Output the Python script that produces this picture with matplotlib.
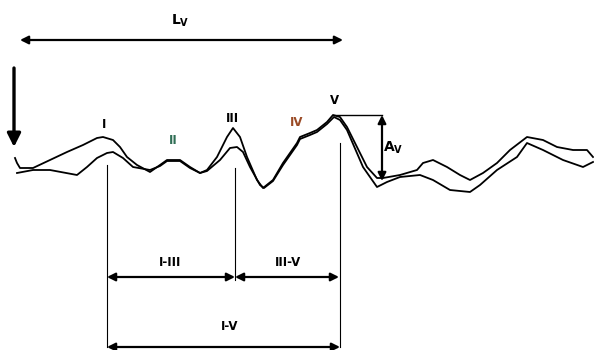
import matplotlib.pyplot as plt

plt.rcParams['font.family'] = ['DejaVu Sans']

# two ABR traces, in image pixels (x to the right, y downwards)
upper_x = [15, 17, 20, 33, 50, 67, 83, 97, 103, 113, 120, 127, 137, 150, 160, 167, 180, 190, 200,
           207, 217, 227, 233, 240, 247, 257, 263, 273, 283, 297, 300, 310, 317, 327, 333, 340,
           347, 357, 367, 377, 383, 400, 417, 423, 433, 447, 460, 470, 483, 497, 510, 527, 543,
           557, 573, 587, 593]
upper_y = [158, 163, 168, 168, 160, 152, 145, 138, 137, 140, 147, 157, 165, 172, 165, 160, 160, 167, 173,
           170, 157, 137, 128, 137, 157, 180, 188, 180, 163, 143, 137, 133, 130, 122, 115, 117,
           127, 147, 167, 178, 178, 175, 170, 163, 160, 167, 175, 180, 173, 163, 150, 137, 140,
           147, 150, 150, 157]

lower_x = [17, 33, 50, 77, 87, 97, 107, 113, 123, 133, 150, 160, 167, 180, 190, 200, 207, 220, 230,
           237, 243, 250, 260, 264, 273, 283, 297, 300, 310, 317, 327, 334, 340, 347, 363, 377,
           387, 400, 420, 433, 450, 470, 480, 497, 517, 527, 543, 563, 583, 593]
lower_y = [173, 170, 170, 175, 167, 158, 153, 152, 158, 167, 170, 166, 161, 161, 168, 173, 171, 160, 148,
           147, 152, 167, 185, 188, 181, 165, 145, 139, 135, 132, 124, 117, 120, 130, 167, 187,
           182, 177, 175, 180, 190, 192, 185, 170, 157, 143, 150, 160, 167, 162]

# wave labels
wave_names = ['I', 'II', 'III', 'IV', 'V']
wave_x = [104, 173, 232, 297, 335]
wave_y = [124, 140, 118, 123, 100]
wave_colors = ['black', '#2f6e55', 'black', '#9a4a25', 'black']

# interval markers
peak_lines_x = [107, 235, 340]
peak_lines_top = [165, 168, 143]
peak_lines_bottom = [347, 280, 347]

fig = plt.figure(figsize=(5.94, 3.5), dpi=100)
ax = fig.add_axes([0, 0, 1, 1])
ax.set_xlim(0, 594)
ax.set_ylim(350, 0)
ax.axis('off')

ax.plot(upper_x, upper_y, color='black', lw=1.3)
ax.plot(lower_x, lower_y, color='black', lw=1.3)

for x, t, b in zip(peak_lines_x, peak_lines_top, peak_lines_bottom):
    ax.plot([x, x], [t, b], color='black', lw=0.8)


def darrow(x0, y0, x1, y1):
    ax.annotate('', xy=(x1, y1), xytext=(x0, y0),
                arrowprops=dict(arrowstyle='<|-|>', color='black', lw=1.6,
                                mutation_scale=12, shrinkA=0, shrinkB=0))


darrow(20, 40, 343, 40)
darrow(107, 277, 235, 277)
darrow(235, 277, 339, 277)
darrow(107, 347, 340, 347)
darrow(382, 115, 382, 181)
ax.plot([333, 382], [115, 115], color='black', lw=1.0)

# stimulus arrow
ax.annotate('', xy=(14, 147), xytext=(14, 68),
            arrowprops=dict(arrowstyle='-|>', color='black', lw=2.4,
                            mutation_scale=20, shrinkA=0, shrinkB=0))

for name, x, y, c in zip(wave_names, wave_x, wave_y, wave_colors):
    ax.text(x, y, name, color=c, fontsize=8.5, fontweight='bold', ha='center', va='center')

ax.text(180, 21, r'L$_\mathbf{V}$', fontsize=10, fontweight='bold', ha='center', va='center')
ax.text(393, 148, r'A$_\mathbf{V}$', fontsize=10, fontweight='bold', ha='center', va='center')
ax.text(170, 263, 'I-III', fontsize=8.5, fontweight='bold', ha='center', va='center')
ax.text(288, 263, 'III-V', fontsize=8.5, fontweight='bold', ha='center', va='center')
ax.text(230, 327, 'I-V', fontsize=8.5, fontweight='bold', ha='center', va='center')

fig.savefig('out.png', dpi=100)
